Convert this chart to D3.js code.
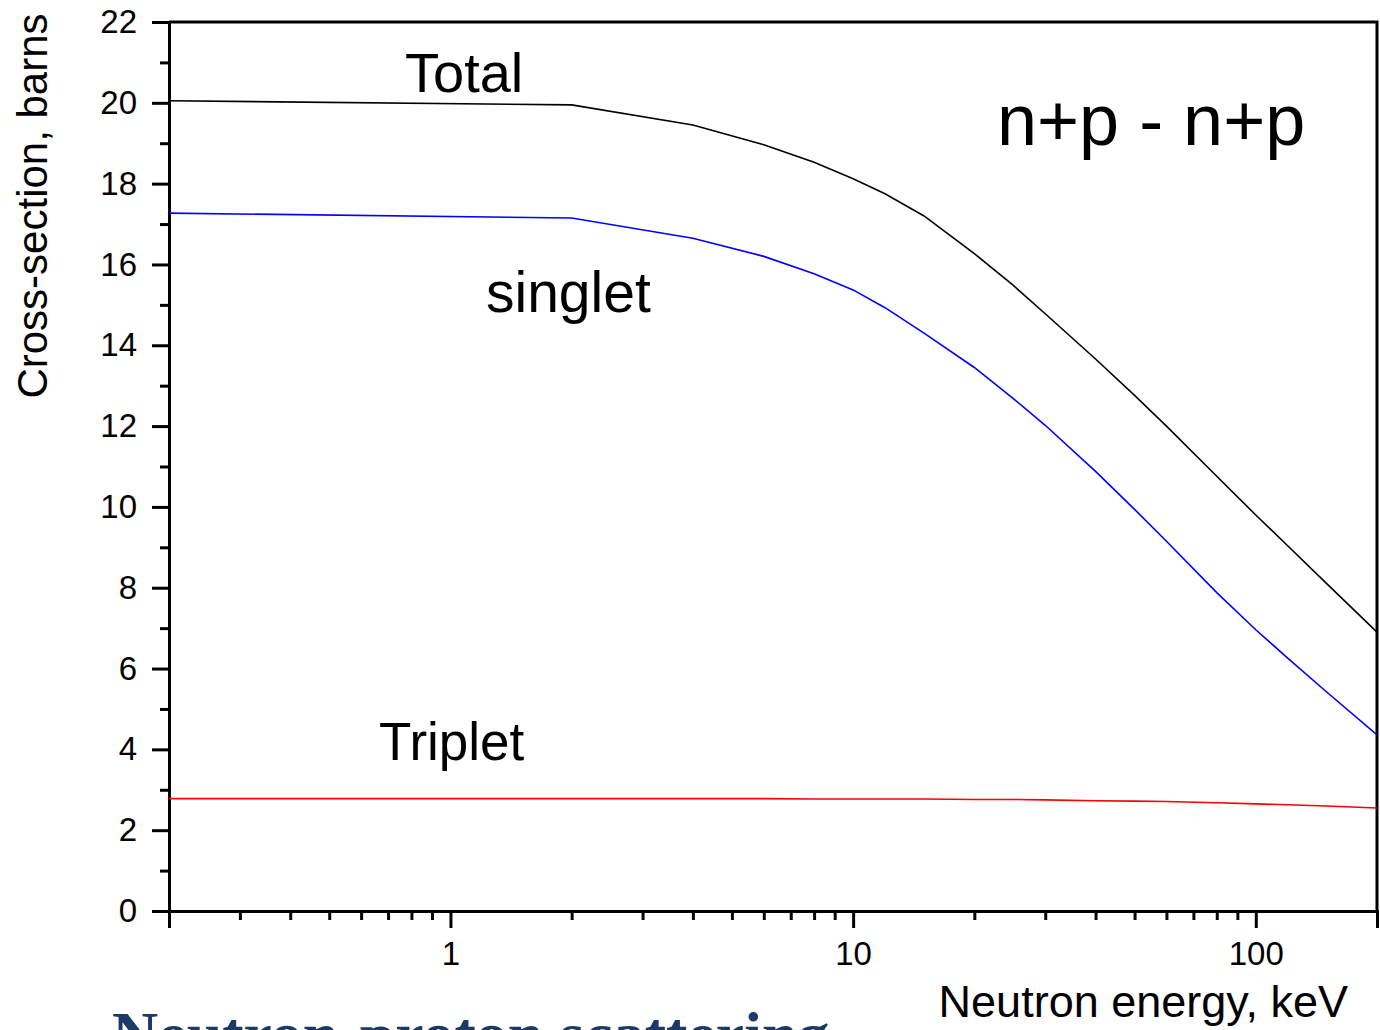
<!DOCTYPE html>
<html>
<head>
<meta charset="utf-8">
<script src="https://cdn.jsdelivr.net/npm/d3@7"></script>
<style>
  html, body { margin: 0; padding: 0; background: #fff; }
  svg { display: block; }
</style>
</head>
<body>
<svg id="chart" width="1380" height="1030"></svg>
<script>
// ---- data ----
const energies  = [0.2, 2, 4, 6, 8, 10, 12, 15, 20, 25, 30, 40, 50, 60, 80, 100, 120, 150, 200];
const totalXS   = [20.05, 19.95, 19.45, 18.96, 18.53, 18.12, 17.75, 17.2, 16.27, 15.48, 14.78, 13.66, 12.76, 12.0, 10.76, 9.8, 9.04, 8.1, 6.90];
const singletXS = [17.27, 17.15, 16.65, 16.2, 15.77, 15.37, 14.93, 14.3, 13.45, 12.68, 12.02, 10.88, 9.94, 9.15, 7.88, 6.96, 6.26, 5.42, 4.36];
const tripletXS = [2.78, 2.78, 2.78, 2.78, 2.77, 2.77, 2.77, 2.77, 2.76, 2.76, 2.75, 2.73, 2.72, 2.71, 2.68, 2.65, 2.63, 2.60, 2.55];

const xMajorTicks = [1, 10, 100];
const xMinorTicks = [0.2,0.3,0.4,0.5,0.6,0.7,0.8,0.9,2,3,4,5,6,7,8,9,20,30,40,50,60,70,80,90,200];
const yMajorTicks = [0, 2, 4, 6, 8, 10, 12, 14, 16, 18, 20, 22];
const yMinorTicks = [1, 3, 5, 7, 9, 11, 13, 15, 17, 19, 21];

const xTitle = "Neutron energy, keV";
const yTitle = "Cross-section, barns";
const reactionLabel = "n+p - n+p";
const bottomCaption = "Neutron-proton scattering";

// ---- layout ----
const svg = d3.select("#chart");
const L = 169, R = 1377, T = 22, B = 911;
const x = d3.scaleLog().domain([0.2, 200]).range([L, R]);
const y = d3.scaleLinear().domain([0, 22]).range([B, T]);

const sans = "Arial, 'Liberation Sans', sans-serif";

// frame (top & right)
svg.append("path")
  .attr("d", `M${L},${T}H${R}V${B}`)
  .attr("fill", "none").attr("stroke", "#000").attr("stroke-width", 3);

// axes
function styleAxis(g) {
  g.selectAll("path.domain").attr("stroke-width", 3);
  g.selectAll(".tick line").attr("stroke-width", 3);
  g.selectAll("text").attr("font-family", sans).attr("font-size", 33).attr("fill", "#000");
}

svg.append("g").attr("transform", `translate(0,${B})`)
  .call(d3.axisBottom(x).tickValues(xMinorTicks).tickSize(9).tickFormat(""))
  .call(styleAxis);
svg.append("g").attr("transform", `translate(0,${B})`)
  .call(d3.axisBottom(x).tickValues(xMajorTicks).tickSize(17).tickPadding(14).tickFormat(d3.format("d")))
  .call(styleAxis);

svg.append("g").attr("transform", `translate(${L},0)`)
  .call(d3.axisLeft(y).tickValues(yMinorTicks).tickSize(9).tickFormat(""))
  .call(styleAxis);
svg.append("g").attr("transform", `translate(${L},0)`)
  .call(d3.axisLeft(y).tickValues(yMajorTicks).tickSize(17).tickPadding(15).tickFormat(d3.format("d")))
  .call(styleAxis);

// curves
const line = d3.line().x((d, i) => x(energies[i])).y(d => y(d));
const series = [
  { v: totalXS, c: "#000000" },
  { v: singletXS, c: "#0000ff" },
  { v: tripletXS, c: "#ff0000" }
];
svg.append("g").selectAll("path").data(series).join("path")
  .attr("d", d => line(d.v))
  .attr("fill", "none")
  .attr("stroke", d => d.c)
  .attr("stroke-width", 1.6);

// labels in plot
const labels = [
  { t: "Total", x: 405, y: 92, s: 56 },
  { t: "singlet", x: 486, y: 312, s: 57 },
  { t: "Triplet", x: 379, y: 760, s: 53 },
  { t: reactionLabel, x: 997, y: 145, s: 72 }
];
svg.append("g").selectAll("text").data(labels).join("text")
  .attr("x", d => d.x).attr("y", d => d.y)
  .attr("font-family", sans).attr("font-size", d => d.s)
  .attr("fill", "#000")
  .text(d => d.t);

// axis titles
svg.append("text")
  .attr("x", 1348).attr("y", 1017)
  .attr("text-anchor", "end")
  .attr("font-family", sans).attr("font-size", 45)
  .text(xTitle);

svg.append("text")
  .attr("transform", "translate(47,206) rotate(-90)")
  .attr("text-anchor", "middle")
  .attr("font-family", sans).attr("font-size", 42)
  .text(yTitle);

// caption (cut off at the bottom edge, as in the reference)
svg.append("text")
  .attr("x", 112).attr("y", 1056)
  .attr("font-family", "'Liberation Serif', 'Times New Roman', serif")
  .attr("font-weight", "bold")
  .attr("font-size", 64)
  .attr("fill", "#1b3a66")
  .text(bottomCaption);
</script>
</body>
</html>
